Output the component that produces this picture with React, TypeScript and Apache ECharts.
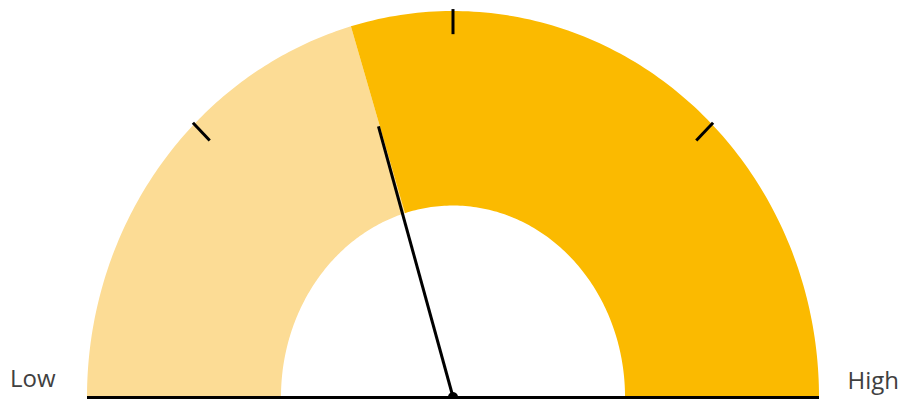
import React, { useEffect, useRef } from "react";
import * as echarts from "echarts";

// ---- data ----
const gaugeMin = 0;
const gaugeMax = 100;
const gaugeValue = 41;
const bandStarts = [0, 41];
const bandEnds = [41, 100];
const tickValues = [25, 50, 75];
const endLabels = ["Low", "High"];

// ---- geometry / style ----
const OUT_RX = 1;
const OUT_RY = 1;
const IN_RX = 0.47;
const IN_RY = 0.496;
const NEEDLE_LEN = 0.73;
const TICK_OUT = 1.005;
const TICK_IN = 0.94;
const bandColors = ["#FCDC95", "#FBBA00"];

function angleOf(v: number) {
  return Math.PI * (1 - (v - gaugeMin) / (gaugeMax - gaugeMin));
}

export default function App() {
  const ref = useRef<HTMLDivElement>(null);
  useEffect(() => {
    if (!ref.current) return;
    const chart = echarts.init(ref.current, null, { renderer: "svg" });
    const bandData = bandStarts.map((s, i) => [s, bandEnds[i]]);
    chart.setOption({
      animation: false,
      grid: { left: 87, right: 82, top: 11, bottom: 2, containLabel: false },
      xAxis: { type: "value", min: -1, max: 1, show: false },
      yAxis: { type: "value", min: 0, max: 1, show: false },
      series: [
        {
          type: "custom",
          clip: false,
          data: bandData,
          renderItem: (params: any, api: any) => {
            const s = api.value(0);
            const e = api.value(1);
            const N = 120;
            const pts: number[][] = [];
            for (let i = 0; i <= N; i++) {
              const t = angleOf(s + ((e - s) * i) / N);
              pts.push(api.coord([OUT_RX * Math.cos(t), OUT_RY * Math.sin(t)]));
            }
            for (let i = N; i >= 0; i--) {
              const t = angleOf(s + ((e - s) * i) / N);
              pts.push(api.coord([IN_RX * Math.cos(t), IN_RY * Math.sin(t)]));
            }
            return {
              type: "polygon",
              shape: { points: pts },
              style: { fill: bandColors[params.dataIndex % bandColors.length] },
            };
          },
        },
        {
          type: "custom",
          clip: false,
          data: tickValues.map((v) => [v]),
          renderItem: (params: any, api: any) => {
            const t = angleOf(api.value(0));
            const p1 = api.coord([TICK_OUT * Math.cos(t), TICK_OUT * Math.sin(t)]);
            const p2 = api.coord([TICK_IN * Math.cos(t), TICK_IN * Math.sin(t)]);
            return {
              type: "line",
              shape: { x1: p1[0], y1: p1[1], x2: p2[0], y2: p2[1] },
              style: { stroke: "#000", lineWidth: 3 },
            };
          },
        },
        {
          type: "custom",
          clip: false,
          data: [[gaugeMin, gaugeMax]],
          renderItem: (params: any, api: any) => {
            const a = angleOf(api.value(0));
            const b = angleOf(api.value(1));
            const p1 = api.coord([OUT_RX * Math.cos(a), 0]);
            const p2 = api.coord([OUT_RX * Math.cos(b), 0]);
            return {
              type: "line",
              shape: { x1: p1[0], y1: p1[1] + 0.5, x2: p2[0], y2: p2[1] + 0.5 },
              style: { stroke: "#000", lineWidth: 3 },
            };
          },
        },
        {
          type: "custom",
          clip: false,
          data: [[gaugeValue]],
          renderItem: (params: any, api: any) => {
            const t = angleOf(api.value(0));
            const c = api.coord([0, 0]);
            const p = api.coord([NEEDLE_LEN * Math.cos(t), NEEDLE_LEN * Math.sin(t)]);
            return {
              type: "group",
              children: [
                {
                  type: "line",
                  shape: { x1: c[0], y1: c[1], x2: p[0], y2: p[1] },
                  style: { stroke: "#000", lineWidth: 3 },
                },
                {
                  type: "circle",
                  shape: { cx: c[0], cy: c[1], r: 5 },
                  style: { fill: "#000" },
                },
              ],
            };
          },
        },
      ],
      graphic: [
        {
          type: "text",
          left: 10,
          top: 365,
          style: {
            text: endLabels[0],
            fill: "#404040",
            font: '24px "Open Sans"',
          },
        },
        {
          type: "text",
          right: 2,
          top: 367,
          style: {
            text: endLabels[1],
            fill: "#404040",
            font: '24px "Open Sans"',
          },
        },
      ],
    });
    return () => chart.dispose();
  }, []);
  return (
    <div
      ref={ref}
      style={{ position: "fixed", left: 0, top: 0, width: 901, height: 399, background: "#fff" }}
    />
  );
}
